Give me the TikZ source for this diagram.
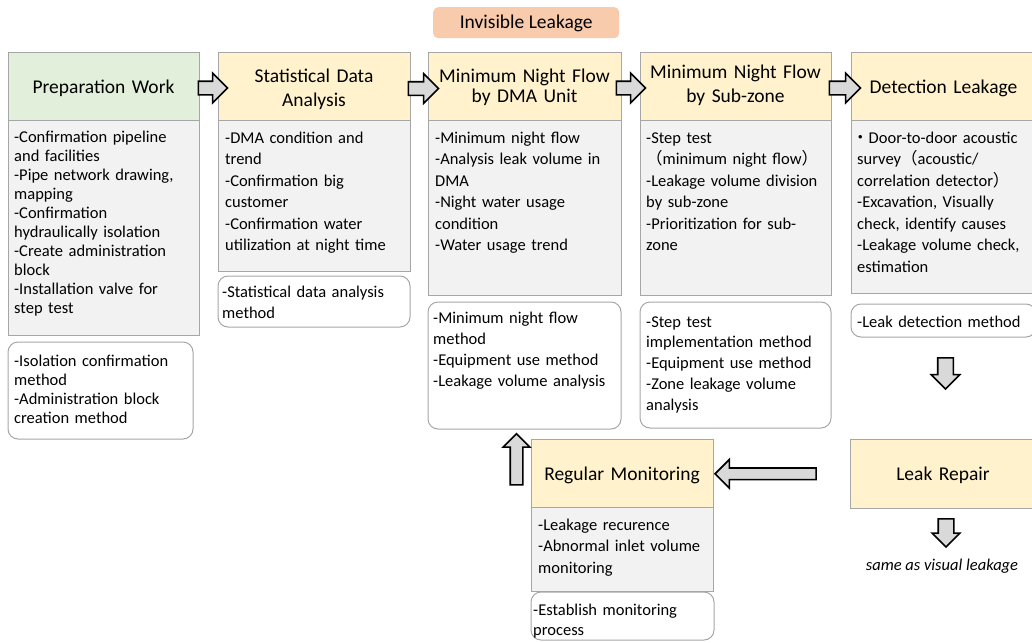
\documentclass[tikz,border=0pt]{standalone}
\usepackage{fontspec}
\setmainfont{Carlito}
\newfontfamily\cjk{Noto Sans CJK JP}
\usetikzlibrary{shapes.arrows,calc}

\definecolor{hdrY}{HTML}{FFF2CC}
\definecolor{hdrG}{HTML}{E2EFDA}
\definecolor{bodyG}{HTML}{F2F2F2}
\definecolor{edgeG}{HTML}{A6A6A6}
\definecolor{peach}{HTML}{F8CBAD}
\definecolor{arrowfill}{HTML}{D9D9D9}

\newcommand\hdrfont{\fontsize{19.5pt}{24pt}\selectfont}
\newcommand\txtfont{\fontsize{16.5pt}{21.5pt}\selectfont}

\tikzset{
  panel/.style={draw=edgeG, line width=1pt, inner sep=0pt, outer sep=0pt, anchor=north west},
  hdr/.style={panel, fill=hdrY},
  body/.style={panel, fill=bodyG},
  note/.style={panel, fill=white, rounded corners=10pt},
  htext/.style={font=\hdrfont, align=center, anchor=base, inner sep=0pt, text width=188pt},
  btext/.style={font=\txtfont, align=left, anchor=base west, inner sep=0pt, text width=200pt},
  barrow/.style={single arrow, draw=black, line width=1.6pt, fill=arrowfill,
    single arrow tip angle=90},
  harrow/.style={barrow, inner xsep=0pt},
  varrow/.style={barrow, inner ysep=0pt},
}

\begin{document}
\begin{tikzpicture}[x=1pt,y=-1pt]
\useasboundingbox (0,0) rectangle (1032,642);

% title tag
\node[fill=peach, rounded corners=5pt, inner sep=0pt, anchor=north west,
  minimum width=186pt, minimum height=31pt] (title) at (433,7) {};
\node[font=\hdrfont, anchor=base, inner sep=0pt] (titletext) at ($(title.north)+(0,21.5)$) {Invisible Leakage};

% column 1
\node[panel, fill=hdrG, minimum width=191pt, minimum height=67pt] (h1) at (8,53) {};
\node[body, minimum width=191pt, minimum height=215pt] (b1) at (8,120) {};
\node[note, minimum width=185pt, minimum height=97pt] (n1) at (8,342) {};
\node[htext] (ht1) at ($(h1.north)+(0,40)$) {Preparation Work};
\node[btext, font=\fontsize{16.5pt}{19pt}\selectfont] (bt1) at ($(b1.north west)+(6,22)$)
  {-Confirmation pipeline\\and facilities\\-Pipe network drawing,\\mapping\\-Confirmation\\hydraulically isolation\\-Create administration\\block\\-Installation valve for\\step test};
\node[btext, font=\fontsize{16.5pt}{19pt}\selectfont] (nt1) at ($(n1.north west)+(6,24)$)
  {-Isolation confirmation\\method\\-Administration block\\creation method};

% column 2
\node[hdr, minimum width=192pt, minimum height=67pt] (h2) at (218,53) {};
\node[body, minimum width=192pt, minimum height=151pt] (b2) at (218,120) {};
\node[note, minimum width=192pt, minimum height=51pt] (n2) at (218,276) {};
\node[htext] (ht2) at ($(h2.north)+(0,29)$) {Statistical Data\\Analysis};
\node[btext] (bt2) at ($(b2.north west)+(7,23)$)
  {-DMA condition and\\trend\\-Confirmation big\\customer\\-Confirmation water\\utilization at night time};
\node[btext] (nt2) at ($(n2.north west)+(4,21)$)
  {-Statistical data analysis\\method};

% column 3
\node[hdr, minimum width=193pt, minimum height=67pt] (h3) at (428,53) {};
\node[body, minimum width=193pt, minimum height=175pt] (b3) at (428,120) {};
\node[note, minimum width=193pt, minimum height=127pt] (n3) at (428,302) {};
\node[htext, font=\fontsize{19.5pt}{20pt}\selectfont] (ht3) at ($(h3.north)+(0,29.5)$) {Minimum Night Flow\\by DMA Unit};
\node[btext] (bt3) at ($(b3.north west)+(7,23)$)
  {-Minimum night flow\\-Analysis leak volume in\\DMA\\-Night water usage\\condition\\-Water usage trend};
\node[btext, font=\fontsize{16.5pt}{21.3pt}\selectfont] (nt3) at ($(n3.north west)+(5,21)$)
  {-Minimum night flow\\method\\-Equipment use method\\-Leakage volume analysis};

% column 4
\node[hdr, minimum width=191pt, minimum height=67pt] (h4) at (640,53) {};
\node[body, minimum width=191pt, minimum height=175pt] (b4) at (640,120) {};
\node[note, minimum width=191pt, minimum height=126pt] (n4) at (640,302) {};
\node[htext] (ht4) at ($(h4.north)+(0,25)$) {Minimum Night Flow\\by Sub-zone};
\node[btext] (bt4) at ($(b4.north west)+(6,23)$)
  {-Step test\\{\cjk （}minimum night flow{\cjk ）}\\-Leakage volume division\\by sub-zone\\-Prioritization for sub-\\zone};
\node[btext, font=\fontsize{16.5pt}{20.8pt}\selectfont] (nt4) at ($(n4.north west)+(6,25)$)
  {-Step test\\implementation method\\-Equipment use method\\-Zone leakage volume\\analysis};

% column 5
\node[hdr, minimum width=185pt, minimum height=67pt] (h5) at (851,53) {};
\node[body, minimum width=185pt, minimum height=173pt] (b5) at (851,120) {};
\node[note, minimum width=185pt, minimum height=33pt] (n5) at (851,304) {};
\node[htext] (ht5) at ($(h5.north)+(0,40)$) {Detection Leakage};
\node[btext] (bt5) at ($(b5.north west)+(6,23)$)
  {\kern-5pt{\cjk ・}Door-to-door acoustic\\survey{\cjk （}acoustic/\\correlation detector{\cjk ）}\\-Excavation, Visually\\check, identify causes\\-Leakage volume check,\\estimation};
\node[btext] (nt5) at ($(n5.north west)+(6,23)$) {-Leak detection method};

% monitoring and repair
\node[hdr, minimum width=182pt, minimum height=68pt] (hm) at (531,439) {};
\node[body, minimum width=182pt, minimum height=84pt] (bm) at (531,507) {};
\node[note, minimum width=183pt, minimum height=48pt] (nm) at (531,592) {};
\node[htext] (htm) at ($(hm.north)+(0,41)$) {Regular Monitoring};
\node[btext] (btm) at ($(bm.north west)+(7,23)$)
  {-Leakage recurence\\-Abnormal inlet volume\\monitoring};
\node[btext, font=\fontsize{16.5pt}{20.5pt}\selectfont] (ntm) at ($(nm.north west)+(2,23)$)
  {-Establish monitoring\\process};

\node[hdr, minimum width=186pt, minimum height=69pt] (hr) at (850,439) {};
\node[htext] (htr) at ($(hr.north)+(0,41)$) {Leak Repair};
\node[font=\fontsize{16.5pt}{20pt}\selectfont\itshape, anchor=base, inner sep=0pt] (same) at (942,570) {same as visual leakage};

% block arrows between steps
\node[harrow, minimum height=29pt, inner ysep=6pt, single arrow head extend=8pt]
  (a12) at ($(h1.east)!.5!(h2.west)+(1,1.5)$) {};
\node[harrow, minimum height=30pt, inner ysep=6pt, single arrow head extend=8pt]
  (a23) at ($(h2.east)!.5!(h3.west)+(1,2)$) {};
\node[harrow, minimum height=29pt, inner ysep=6pt, single arrow head extend=8pt]
  (a34) at ($(h3.east)!.5!(h4.west)+(-3,1.5)$) {};
\node[harrow, minimum height=31pt, inner ysep=6pt, single arrow head extend=8pt]
  (a45) at ($(h4.east)!.5!(h5.west)+(0.5,1.5)$) {};
\node[varrow, shape border rotate=270, minimum height=31pt, inner xsep=7pt, single arrow head extend=6.5pt]
  (a5d) at ($(n5.south)+(2,32.5)$) {};
\node[varrow, shape border rotate=270, minimum height=28pt, inner xsep=7pt, single arrow head extend=6pt]
  (ard) at ($(hr.south)+(3,21)$) {};
\node[harrow, shape border rotate=180, minimum height=101pt, inner ysep=5pt, single arrow head extend=8.5pt]
  (arm) at ($(hm.east)!.5!(hr.west)+(-13,0.5)$) {};
\node[varrow, shape border rotate=90, minimum height=51pt, inner xsep=5.5pt, single arrow head extend=7pt]
  (amu) at ($(hm.west)+(-14.5,-10.5)$) {};
\end{tikzpicture}
\end{document}
